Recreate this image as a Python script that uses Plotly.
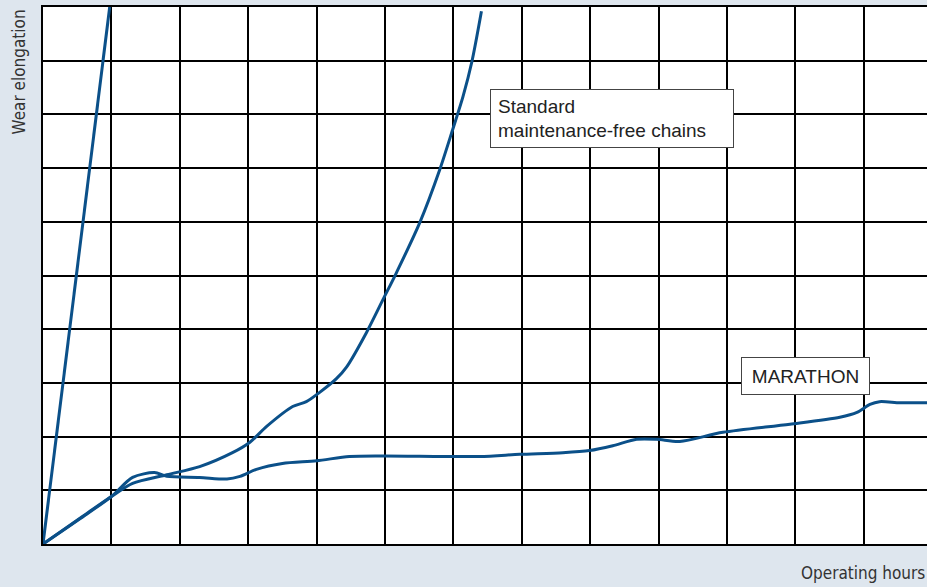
import plotly.graph_objects as go

# Operating hours (grid units) / wear elongation (grid units)
steep_x = [0.0, 0.975]
steep_y = [0.0, 10.0]

standard_x = [0.0, 0.54, 1.0, 1.31, 1.81, 2.29, 2.77, 3.02, 3.27, 3.65, 3.85, 4.04,
              4.29, 4.44, 4.73, 4.97, 5.17, 5.51, 5.80, 5.99, 6.14, 6.27, 6.41]
standard_y = [0.0, 0.48, 0.885, 1.13, 1.29, 1.44, 1.70, 1.89, 2.19, 2.56, 2.65, 2.82,
              3.08, 3.30, 3.94, 4.55, 5.06, 5.99, 6.97, 7.72, 8.33, 8.98, 9.92]

marathon_x = [0.0, 0.54, 1.0, 1.31, 1.63, 1.81, 2.29, 2.69, 2.88, 3.12, 3.50, 4.0,
              4.48, 4.97, 6.38, 6.97, 7.60, 7.99, 8.33, 8.68, 8.97, 9.31, 9.94,
              10.92, 11.65, 11.90, 12.09, 12.23, 12.53, 12.95]
marathon_y = [0.0, 0.47, 0.885, 1.24, 1.33, 1.26, 1.24, 1.21, 1.26, 1.39, 1.50, 1.55,
              1.63, 1.64, 1.63, 1.67, 1.70, 1.74, 1.83, 1.95, 1.95, 1.91, 2.08,
              2.23, 2.36, 2.45, 2.60, 2.65, 2.63, 2.63]

LINE = "#0b5089"
BG = "#dee6ee"

fig = go.Figure()
for xs, ys in [(steep_x, steep_y), (standard_x, standard_y), (marathon_x, marathon_y)]:
    fig.add_trace(go.Scatter(x=xs, y=ys, mode="lines",
                             line=dict(color=LINE, width=3, shape="spline", smoothing=0.8),
                             hoverinfo="skip", showlegend=False))

W, H = 927, 587
ml, mt, mb = 43, 7, 43
pw = W - ml
ph = H - mt - mb

def px_x(p):
    return (p - ml) / pw

def px_y(p):
    return (H - mb - p) / ph

label_font = dict(family="Liberation Sans Narrow, DejaVu Sans Condensed, Arial Narrow, sans-serif",
                  size=17, color="#333333")
box_font = dict(family="Liberation Sans, Arial, Helvetica, sans-serif", size=19, color="#222222")

fig.update_layout(
    width=W, height=H,
    margin=dict(l=ml, r=0, t=mt, b=mb),
    paper_bgcolor=BG, plot_bgcolor="white",
    xaxis=dict(range=[0, pw / 68.4], dtick=1, tick0=0, showgrid=True, gridcolor="black",
               gridwidth=2, zeroline=False, showticklabels=False, ticks="",
               showline=True, linecolor="black", linewidth=2, mirror=True, fixedrange=True),
    yaxis=dict(range=[0, 10], dtick=1, tick0=0, showgrid=True, gridcolor="black",
               gridwidth=2, zeroline=False, showticklabels=False, ticks="",
               showline=True, linecolor="black", linewidth=2, fixedrange=True),
    annotations=[
        dict(text="Wear elongation", xref="paper", yref="paper", x=px_x(18), y=px_y(8),
             xanchor="center", yanchor="top", textangle=-90, showarrow=False, font=label_font),
        dict(text="Operating hours", xref="paper", yref="paper", x=1.0, y=px_y(573),
             xanchor="right", yanchor="middle", showarrow=False, font=label_font),
        dict(text="Standard<br>maintenance-free chains", xref="paper", yref="paper",
             x=px_x(490), y=px_y(89), xanchor="left", yanchor="top", align="left",
             showarrow=False, font=box_font, bgcolor="white", bordercolor="#444444",
             borderwidth=1, borderpad=7, width=228, height=43),
        dict(text="MARATHON", xref="paper", yref="paper",
             x=px_x(741), y=px_y(357), xanchor="left", yanchor="top", align="center",
             showarrow=False, font=box_font, bgcolor="white", bordercolor="#444444",
             borderwidth=1, borderpad=7, width=113, height=22),
    ],
)

fig.write_html("out.html", config={"displayModeBar": False},
               post_script="document.body.style.margin='0';document.body.style.overflow='hidden';")
